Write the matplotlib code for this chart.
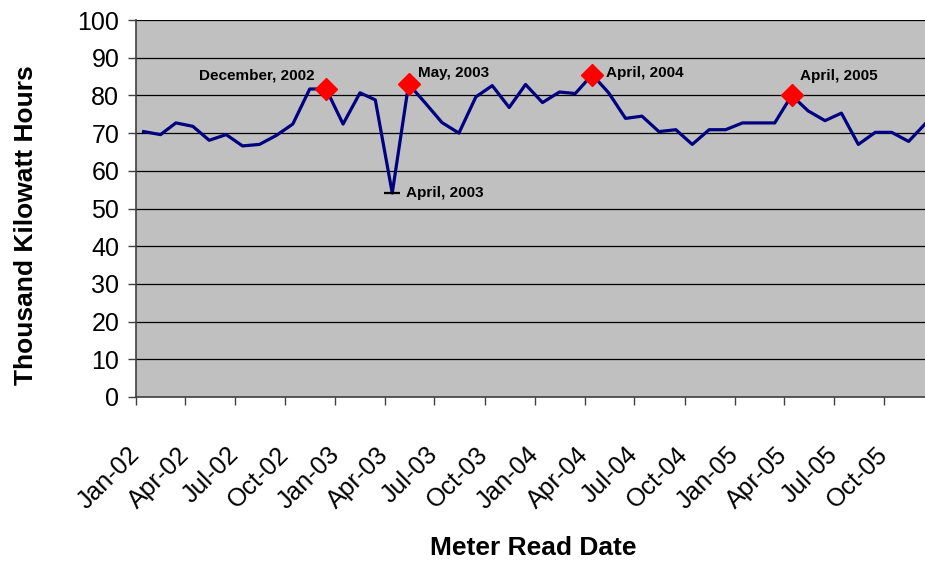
import datetime as dt
import matplotlib
matplotlib.use("Agg")
import matplotlib.pyplot as plt
import matplotlib.dates as mdates

plt.rcParams['font.family'] = ['Liberation Sans', 'DejaVu Sans']

# monthly meter reads, Jan 2002 - Dec 2005 (thousand kWh)
read_months = [(y, m) for y in range(2002, 2006) for m in range(1, 13)]
read_day = 15
kwh = [70.4, 69.6, 72.7, 71.8, 68.1, 69.6, 66.6, 67.0, 69.4, 72.4, 81.7, 81.7,
       72.4, 80.7, 78.8, 54.1, 83.0, 77.9, 72.8, 70.0, 79.6, 82.6, 76.8, 82.9,
       78.1, 80.9, 80.5, 85.5, 80.7, 73.9, 74.5, 70.4, 70.9, 67.0, 70.9, 70.9,
       72.7, 72.7, 72.7, 80.0, 75.9, 73.3, 75.3, 67.0, 70.2, 70.2, 67.8, 72.4]

# highlighted reads: (year, month, label, marker)
highlights = [(2002, 12, 'December, 2002', 'peak'),
              (2003, 4, 'April, 2003', 'low'),
              (2003, 5, 'May, 2003', 'peak'),
              (2004, 4, 'April, 2004', 'peak'),
              (2005, 4, 'April, 2005', 'peak')]

dates = [dt.date(y, m, read_day) for y, m in read_months]

fig = plt.figure(figsize=(9.25, 5.62), dpi=100)
ax = fig.add_axes([0.147, 0.2936, 0.853, 0.6708])
ax.set_facecolor('#C0C0C0')

ax.plot(dates, kwh, color='#000080', linewidth=2.3, zorder=3)

# label offsets in points (dx, dy, ha)
offsets = {'December, 2002': (-8, 10, 'right'),
           'April, 2003': (10, 0, 'left'),
           'May, 2003': (7, 8, 'left'),
           'April, 2004': (10, 1, 'left'),
           'April, 2005': (6, 14, 'left')}

for y, m, label, kind in highlights:
    i = read_months.index((y, m))
    if kind == 'peak':
        ax.plot(dates[i], kwh[i], marker='D', color='red', markersize=11,
                markeredgecolor='red', zorder=4, linestyle='none')
    else:
        ax.plot(dates[i], kwh[i], marker='_', color='black', markersize=12,
                markeredgewidth=1.6, zorder=4, linestyle='none')
    dx, dy, ha = offsets[label]
    ax.annotate(label, (dates[i], kwh[i]), xytext=(dx, dy),
                textcoords='offset points', ha=ha, va='center',
                fontsize=11, fontweight='bold', zorder=5)

ax.set_xlim(dt.date(2002, 1, 1), dates[-1])
ax.set_ylim(0, 100)
ax.set_yticks(range(0, 101, 10))
ax.yaxis.grid(True, color='black', linewidth=0.9)
ax.set_axisbelow(True)

ax.xaxis.set_major_locator(mdates.MonthLocator(bymonth=[1, 4, 7, 10]))
ax.xaxis.set_major_formatter(mdates.DateFormatter('%b-%y'))

for s in ['top', 'right']:
    ax.spines[s].set_visible(False)
for s in ['left', 'bottom']:
    ax.spines[s].set_color('#404040')
    ax.spines[s].set_linewidth(1.2)

ax.tick_params(axis='both', direction='out', length=6, color='#404040',
               labelsize=18, width=1)
ax.tick_params(axis='y', pad=6)
ax.tick_params(axis='x', pad=33)
plt.setp(ax.get_xticklabels(), rotation=45, ha='right', va='center',
         rotation_mode='anchor')

ax.set_ylabel('Thousand Kilowatt Hours', fontsize=19, fontweight='bold', va='center')
ax.yaxis.set_label_coords(-0.139, 0.456)
ax.set_xlabel('Meter Read Date', fontsize=19, fontweight='bold', va='center')
ax.xaxis.set_label_coords(0.504, -0.40)

fig.savefig('out.png', dpi=100)
